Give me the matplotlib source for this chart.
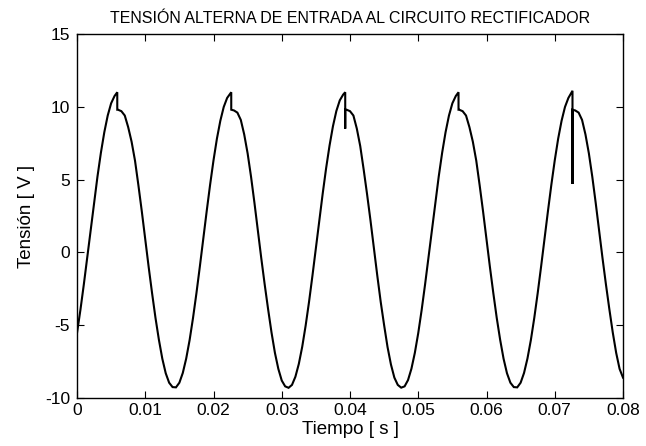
import matplotlib
matplotlib.use("Agg")
import matplotlib.pyplot as plt

plt.rcParams['font.family'] = ['Liberation Sans', 'DejaVu Sans']

# Data (time in s, voltage in V)
tiempo = [
    0.0000, 0.0005, 0.0010, 0.0015, 0.0020, 0.0025, 0.0030, 0.0035, 0.0040, 0.0045,
    0.0050, 0.0055, 0.0059, 0.0059, 0.0060, 0.0065, 0.0070, 0.0075, 0.0080, 0.0085,
    0.0090, 0.0095, 0.0100, 0.0105, 0.0110, 0.0115, 0.0120, 0.0125, 0.0130, 0.0135,
    0.0140, 0.0145, 0.0150, 0.0155, 0.0160, 0.0165, 0.0170, 0.0175, 0.0180, 0.0185,
    0.0190, 0.0195, 0.0200, 0.0205, 0.0210, 0.0215, 0.0220, 0.0226, 0.0226, 0.0230,
    0.0235, 0.0240, 0.0245, 0.0250, 0.0255, 0.0260, 0.0265, 0.0270, 0.0275, 0.0280,
    0.0285, 0.0290, 0.0295, 0.0300, 0.0305, 0.0310, 0.0315, 0.0320, 0.0325, 0.0330,
    0.0335, 0.0340, 0.0345, 0.0350, 0.0355, 0.0360, 0.0365, 0.0370, 0.0375, 0.0380,
    0.0385, 0.0390, 0.0393, 0.0393, 0.0393, 0.0395, 0.0400, 0.0405, 0.0410, 0.0415,
    0.0420, 0.0425, 0.0430, 0.0435, 0.0440, 0.0445, 0.0450, 0.0455, 0.0460, 0.0465,
    0.0470, 0.0475, 0.0480, 0.0485, 0.0490, 0.0495, 0.0500, 0.0505, 0.0510, 0.0515,
    0.0520, 0.0525, 0.0530, 0.0535, 0.0540, 0.0545, 0.0550, 0.0555, 0.0559, 0.0559,
    0.0560, 0.0565, 0.0570, 0.0575, 0.0580, 0.0585, 0.0590, 0.0595, 0.0600, 0.0605,
    0.0610, 0.0615, 0.0620, 0.0625, 0.0630, 0.0635, 0.0640, 0.0645, 0.0650, 0.0655,
    0.0660, 0.0665, 0.0670, 0.0675, 0.0680, 0.0685, 0.0690, 0.0695, 0.0700, 0.0705,
    0.0710, 0.0715, 0.0720, 0.0726, 0.0726, 0.0726, 0.0730, 0.0735, 0.0740, 0.0745,
    0.0750, 0.0755, 0.0760, 0.0765, 0.0770, 0.0775, 0.0780, 0.0785, 0.0790, 0.0795,
    0.0800,
]
tension = [
    -5.54, -3.95, -2.20, -0.34, 1.56, 3.43, 5.21, 6.84, 8.25, 9.40,
    10.24, 10.74, 11.00, 9.80, 9.80, 9.70, 9.40, 8.60, 7.60, 6.30,
    4.60, 2.80, 0.90, -1.00, -2.80, -4.50, -6.00, -7.30, -8.30, -8.95,
    -9.25, -9.27, -8.95, -8.28, -7.29, -6.02, -4.50, -2.80, -0.97, 0.93,
    2.82, 4.64, 6.32, 7.81, 9.04, 9.99, 10.61, 11.00, 9.80, 9.75,
    9.60, 9.10, 8.10, 6.80, 5.20, 3.40, 1.50, -0.40, -2.20, -3.90,
    -5.50, -6.90, -8.00, -8.80, -9.20, -9.30, -9.10, -8.54, -7.66, -6.48,
    -5.03, -3.39, -1.59, 0.29, 2.19, 4.04, 5.78, 7.33, 8.66, 9.71,
    10.44, 10.84, 11.00, 8.50, 9.80, 9.80, 9.70, 9.40, 8.50, 7.30,
    5.70, 4.00, 2.20, 0.30, -1.60, -3.40, -5.00, -6.50, -7.70, -8.60,
    -9.10, -9.29, -9.20, -8.77, -7.99, -6.90, -5.54, -3.95, -2.20, -0.34,
    1.56, 3.43, 5.21, 6.84, 8.25, 9.40, 10.24, 10.74, 11.00, 9.80,
    9.80, 9.70, 9.40, 8.60, 7.60, 6.30, 4.60, 2.80, 0.90, -1.00,
    -2.80, -4.50, -6.00, -7.30, -8.30, -8.95, -9.25, -9.27, -8.95, -8.28,
    -7.29, -6.02, -4.50, -2.80, -0.97, 0.93, 2.82, 4.64, 6.32, 7.81,
    9.04, 9.99, 10.61, 11.10, 4.70, 9.80, 9.75, 9.60, 9.10, 8.10,
    6.80, 5.20, 3.40, 1.50, -0.40, -2.20, -3.90, -5.50, -6.90, -8.00,
    -8.60,
]

x_ticks = [0, 0.01, 0.02, 0.03, 0.04, 0.05, 0.06, 0.07, 0.08]
x_labels = ['0', '0.01', '0.02', '0.03', '0.04', '0.05', '0.06', '0.07', '0.08']
y_ticks = [-10, -5, 0, 5, 10, 15]
y_labels = ['-10', '-5', '0', '5', '10', '15']

fig = plt.figure(figsize=(6.46, 4.46), dpi=100)
ax = fig.add_axes([77/646, 1 - 398/446, (623 - 77)/646, (398 - 34)/446])

ax.plot(tiempo, tension, color='black', linewidth=1.5, solid_joinstyle='miter')

ax.set_xlim(0, 0.08)
ax.set_ylim(-10, 15)
ax.set_xticks(x_ticks)
ax.set_xticklabels(x_labels)
ax.set_yticks(y_ticks)
ax.set_yticklabels(y_labels)
ax.tick_params(direction='in', top=True, right=True, length=5, width=0.8,
               labelsize=12.5, colors='black')
ax.tick_params(axis='x', pad=3.5)
ax.tick_params(axis='y', pad=5)
for s in ax.spines.values():
    s.set_linewidth(1.0)
    s.set_color('black')

ax.set_title('TENSIÓN ALTERNA DE ENTRADA AL CIRCUITO RECTIFICADOR',
             fontsize=11.5, pad=8)
ax.set_xlabel('Tiempo [ s ]', fontsize=13.5, labelpad=2)
ax.set_ylabel('Tensión [ V ]', fontsize=13.5, labelpad=7)

fig.savefig('out.png', dpi=100, facecolor='white')
